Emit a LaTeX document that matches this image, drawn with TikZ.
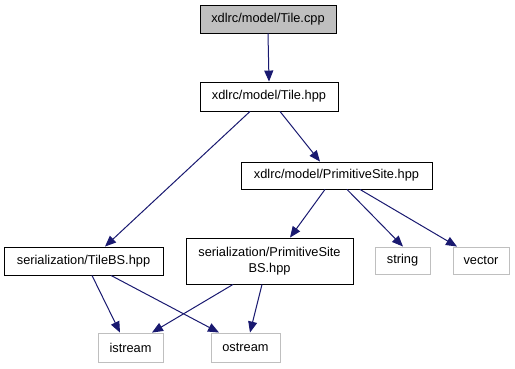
\documentclass[tikz,border=0pt]{standalone}
\usepackage{fontspec}
\setmainfont{Liberation Sans}
\usetikzlibrary{arrows.meta}
\definecolor{edgeblue}{RGB}{25,25,112}
\definecolor{boxgray}{RGB}{191,191,191}
\begin{document}
\begin{tikzpicture}[x=1pt, y=-1pt,
        file/.style={draw, line width=0.9pt, inner sep=0pt, align=center,
            font=\fontsize{12.8}{16.5}\selectfont},
        ext/.style={file, draw=boxgray},
        edge/.style={draw=edgeblue, line width=1pt, -{Triangle[length=11pt, width=9pt]}}]
        \useasboundingbox (0,0) rectangle (515,368);
        % headers pulled in by Tile.cpp
        \node[file, fill=boxgray, minimum width=136pt, minimum height=28pt] (tilecpp) at (268,19) {xdlrc/model/Tile.cpp};
        \node[file, minimum width=138pt, minimum height=29pt] (tilehpp) at (269,96.5) {xdlrc/model/Tile.hpp};
        \node[file, minimum width=191pt, minimum height=27pt] (site) at (336.5,175.5) {xdlrc/model/PrimitiveSite.hpp};
        \node[file, minimum width=159pt, minimum height=28pt] (tilebs) at (83.5,261) {serialization/TileBS.hpp};
        \node[file, minimum width=167pt, minimum height=46pt] (sitebs) at (269.5,261) {serialization/PrimitiveSite\\BS.hpp};
        % system headers
        \node[ext, minimum width=55pt, minimum height=27pt] (string) at (402.5,260.5) {string};
        \node[ext, minimum width=56pt, minimum height=27pt] (vector) at (481,260.5) {vector};
        \node[ext, minimum width=65pt, minimum height=29pt] (istream) at (130.5,347.5) {istream};
        \node[ext, minimum width=69pt, minimum height=29pt] (ostream) at (245.5,347.5) {ostream};
        % include edges: from/shift/to/shift
        \foreach \a/\sa/\b/\sb in {
            tilecpp/0/tilehpp/0,
            tilehpp/-19/tilebs/21.5,
            tilehpp/11/site/-16.5,
            site/-11.5/sitebs/20.5,
            site/10.5/string/0.5,
            site/23.5/vector/-24,
            tilebs/8.5/istream/-10.5,
            tilebs/27.5/ostream/-26.5,
            sitebs/-36.5/istream/21.5,
            sitebs/-7.5/ostream/4.5
        } {
            \draw[edge] ([xshift=\sa pt]\a.south) -- ([xshift=\sb pt]\b.north);
        }
    \end{tikzpicture}
\end{document}
